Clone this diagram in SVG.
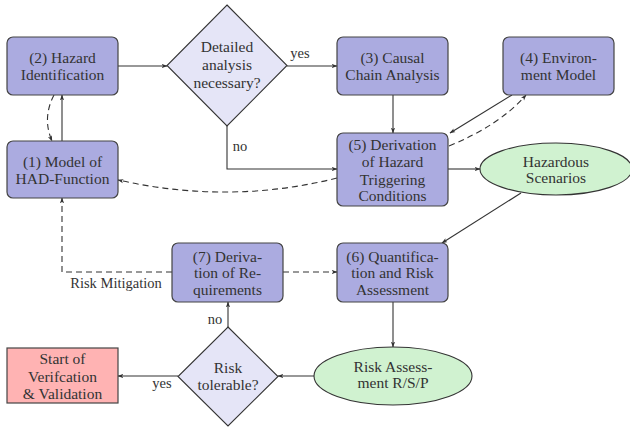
<svg xmlns="http://www.w3.org/2000/svg" width="630" height="429" viewBox="0 0 630 429" font-family="Liberation Serif, DejaVu Serif, serif">
<style>
text{font-size:15.5px;fill:#333;text-anchor:middle}
.box{fill:#ababe0;stroke:#444;stroke-width:1.2}
.dia{fill:#e5e5f7;stroke:#333;stroke-width:1.1}
.ell{fill:#d0f2d0;stroke:#333;stroke-width:1.1}
.start{fill:#ffb3b3;stroke:#444;stroke-width:1.2}
.c{fill:none;stroke:#333;stroke-width:1.1;marker-end:url(#ah)}
.d{stroke-dasharray:6,4}
.lbl{font-size:14.5px}
</style>
<defs>
<marker id="ah" viewBox="0 0 10 10" refX="9" refY="5" markerWidth="6" markerHeight="6" orient="auto" markerUnits="userSpaceOnUse">
<path d="M0,1.5 L10,5 L0,8.5 L2.5,5 Z" fill="#333"/>
</marker>
</defs>
<g id="connectors">
<path class="c" d="M118,66 L167,66"/>
<path class="c" d="M287,66 L337,66"/>
<path class="c" d="M227,126 L227,169 L337,169"/>
<path class="c" d="M393,95 L393,133"/>
<path class="c" d="M512,95 L450,133"/>
<path class="c d" d="M449,146 Q500,125 526,95"/>
<path class="c" d="M448,169 L480,169"/>
<path class="c d" d="M337,178 Q230,205 118,180"/>
<path class="c" d="M62,141 L62,95"/>
<path class="c d" d="M54,95 Q42,118 52,141"/>
<path class="c" d="M521,193 L442,243"/>
<path class="c" d="M393,302 L393,347"/>
<path class="c" d="M314,376 L278,376"/>
<path class="c" d="M178,376 L118,376"/>
<path class="c" d="M228,327 L228,302"/>
<path class="c d" d="M283,272 L337,272"/>
<path class="c d" d="M172,272 L62,272 L62,198"/>
<text class="lbl" x="300" y="58">yes</text>
<text class="lbl" x="240" y="151">no</text>
<text class="lbl" x="215" y="324">no</text>
<text class="lbl" x="162" y="388">yes</text>
<text class="lbl" x="116" y="288">Risk Mitigation</text>
</g>
<g id="n2"><rect class="box" x="7" y="37" width="111" height="58" rx="6"/><text x="62.5" y="63">(2) Hazard</text><text x="62.5" y="80">Identification</text></g>
<g id="n1"><rect class="box" x="7" y="141" width="111" height="57" rx="6"/><text x="62.5" y="167">(1) Model of</text><text x="62.5" y="184">HAD-Function</text></g>
<g id="d1"><path class="dia" d="M227,5 L287,65.5 L227,126 L167,65.5 Z"/><text x="227" y="52">Detailed</text><text x="227" y="70">analysis</text><text x="227" y="88">necessary?</text></g>
<g id="n3"><rect class="box" x="337" y="37" width="111" height="58" rx="6"/><text x="392.5" y="63">(3) Causal</text><text x="392.5" y="80">Chain Analysis</text></g>
<g id="n4"><rect class="box" x="503" y="37" width="111" height="58" rx="6"/><text x="558.5" y="63">(4) Environ-</text><text x="558.5" y="80">ment Model</text></g>
<g id="n5"><rect class="box" x="337" y="133" width="111" height="73" rx="6"/><text x="392.5" y="150">(5) Derivation</text><text x="392.5" y="167">of Hazard</text><text x="392.5" y="184.5">Triggering</text><text x="392.5" y="201">Conditions</text></g>
<g id="e1"><ellipse class="ell" cx="556" cy="169" rx="76" ry="26"/><text x="556" y="167">Hazardous</text><text x="556" y="183">Scenarios</text></g>
<g id="n6"><rect class="box" x="337" y="243" width="111" height="59" rx="6"/><text x="392.5" y="262">(6) Quantifica-</text><text x="392.5" y="278">tion and Risk</text><text x="392.5" y="295">Assessment</text></g>
<g id="n7"><rect class="box" x="172" y="243" width="111" height="59" rx="6"/><text x="227.5" y="262">(7) Deriva-</text><text x="227.5" y="278">tion of Re-</text><text x="227.5" y="295">quirements</text></g>
<g id="e2"><ellipse class="ell" cx="393" cy="376" rx="79" ry="29"/><text x="393" y="372">Risk Assess-</text><text x="393" y="388">ment R/S/P</text></g>
<g id="d2"><path class="dia" d="M228,327 L278,376.5 L228,426 L178,376.5 Z"/><text x="228" y="373">Risk</text><text x="228" y="390">tolerable?</text></g>
<g id="start"><rect class="start" x="7" y="348" width="111" height="55"/><text x="62.5" y="364">Start of</text><text x="62.5" y="382">Verifcation</text><text x="62.5" y="399">&amp; Validation</text></g>
</svg>
